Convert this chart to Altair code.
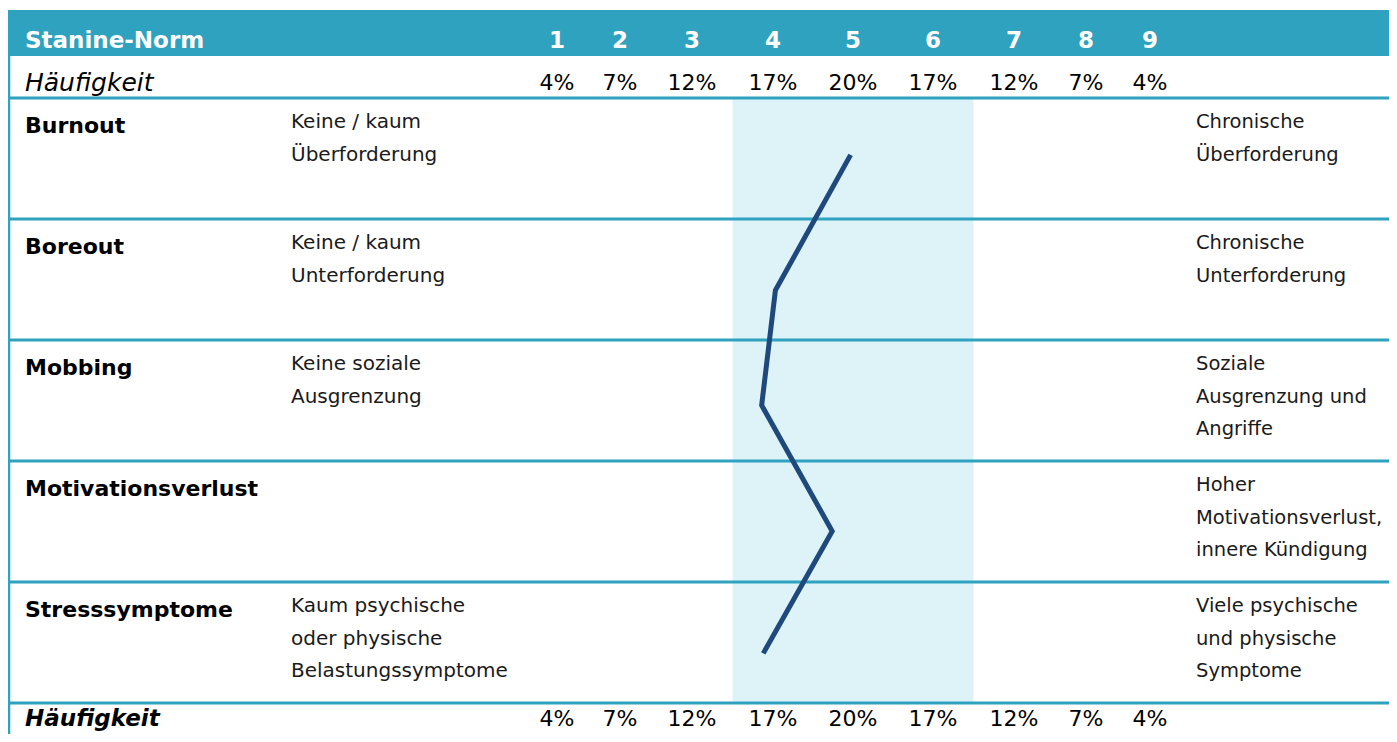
import altair as alt
import pandas as pd

# ---- data ----
stanine = [1, 2, 3, 4, 5, 6, 7, 8, 9]
frequency = ["4%", "7%", "12%", "17%", "20%", "17%", "12%", "7%", "4%"]
scales = ["Burnout", "Boreout", "Mobbing", "Motivationsverlust", "Stresssymptome"]
low_desc = [
    ["Keine / kaum", "Überforderung"],
    ["Keine / kaum", "Unterforderung"],
    ["Keine soziale", "Ausgrenzung"],
    [""],
    ["Kaum psychische", "oder physische", "Belastungssymptome"],
]
high_desc = [
    ["Chronische", "Überforderung"],
    ["Chronische", "Unterforderung"],
    ["Soziale", "Ausgrenzung und", "Angriffe"],
    ["Hoher", "Motivationsverlust,", "innere Kündigung"],
    ["Viele psychische", "und physische", "Symptome"],
]
scores = [4.97, 4.03, 3.86, 4.74, 3.88]          # stanine value of each profile point
score_in_row = [0.47, 0.59, 0.54, 0.58, 0.59]    # vertical position of the point within its row
average_band = [3.5, 6.5]                        # shaded average range (stanine 4-6)

# ---- styling ----
TEAL = "#2ea2bf"
BAND = "#ddf3f8"
LINE = "#1f497d"
FONT = "DejaVu Sans"

# piecewise scales (layout of the table)
xscale = alt.Scale(domain=[0, 1, 2, 3, 4, 5, 6, 7, 8, 9, 10],
                   range=[0, 549, 612, 684, 765, 845, 925, 1006, 1078, 1142, 1389],
                   nice=False, zero=False)
yscale = alt.Scale(domain=[0, 1, 2, 3, 4, 5, 6, 7, 8],
                   range=[2, 48, 90, 211, 332, 453, 574, 695, 736],
                   nice=False, zero=False)

first_row = 2
n = len(scales)

header_df = pd.DataFrame({"x0": [0], "x1": [10], "y0": [0], "y1": [1]})
band_df = pd.DataFrame({"x0": [average_band[0]], "x1": [average_band[1]],
                        "y0": [first_row], "y1": [first_row + n]})
hlines_df = pd.DataFrame({"y": list(range(first_row, first_row + n + 1)), "x0": 0, "x1": 10})
vline_df = pd.DataFrame({"y0": [0], "y1": [8]})

stan_df = pd.DataFrame({"x": stanine, "label": [str(s) for s in stanine], "row": 0})
freq_top = pd.DataFrame({"x": stanine, "label": frequency, "row": 1})
freq_bot = pd.DataFrame({"x": stanine, "label": frequency, "row": first_row + n})
rows_df = pd.DataFrame({
    "row": [first_row + i for i in range(n)],
    "scale": scales,
    "low": low_desc,
    "high": high_desc,
})
line_df = pd.DataFrame({
    "x": scores,
    "y": [first_row + i + f for i, f in enumerate(score_in_row)],
    "order": list(range(n)),
})
title_df = pd.DataFrame({"row": [0], "label": ["Stanine-Norm"]})

Xq = lambda f: alt.X(f, scale=xscale, axis=None)
Yq = lambda f: alt.Y(f, scale=yscale, axis=None)

header = alt.Chart(header_df).mark_rect(color=TEAL).encode(
    x=Xq("x0:Q"), x2="x1:Q", y=Yq("y0:Q"), y2="y1:Q")

band = alt.Chart(band_df).mark_rect(color=BAND).encode(
    x=Xq("x0:Q"), x2="x1:Q", y=Yq("y0:Q"), y2="y1:Q")

hlines = alt.Chart(hlines_df).mark_rule(color=TEAL, strokeWidth=3).encode(
    x=Xq("x0:Q"), x2="x1:Q", y=Yq("y:Q"))

vline = alt.Chart(vline_df).mark_rule(color=TEAL, strokeWidth=2.5).encode(
    x=alt.value(1), y=Yq("y0:Q"), y2="y1:Q")

title_txt = alt.Chart(title_df).mark_text(
    align="left", baseline="alphabetic", dy=38, font=FONT, fontSize=23,
    fontWeight="bold", color="white").encode(
    x=alt.value(17), y=Yq("row:Q"), text="label:N")

stan_txt = alt.Chart(stan_df).mark_text(
    align="center", baseline="alphabetic", dy=38, font=FONT, fontSize=23,
    fontWeight="bold", color="white").encode(
    x=Xq("x:Q"), y=Yq("row:Q"), text="label:N")

freq_top_txt = alt.Chart(freq_top).mark_text(
    align="center", baseline="alphabetic", dy=34, font=FONT, fontSize=22,
    color="black").encode(x=Xq("x:Q"), y=Yq("row:Q"), text="label:N")

freq_bot_txt = alt.Chart(freq_bot).mark_text(
    align="center", baseline="alphabetic", dy=23, font=FONT, fontSize=22,
    color="black").encode(x=Xq("x:Q"), y=Yq("row:Q"), text="label:N")

haeuf_top = alt.Chart(pd.DataFrame({"row": [1], "label": ["Häufigkeit"]})).mark_text(
    align="left", baseline="alphabetic", dy=35, font=FONT, fontSize=25,
    fontStyle="italic", color="black").encode(
    x=alt.value(17), y=Yq("row:Q"), text="label:N")

haeuf_bot = alt.Chart(pd.DataFrame({"row": [first_row + n], "label": ["Häufigkeit"]})).mark_text(
    align="left", baseline="alphabetic", dy=23, font=FONT, fontSize=23,
    fontStyle="italic", fontWeight="bold", color="black").encode(
    x=alt.value(17), y=Yq("row:Q"), text="label:N")

scale_txt = alt.Chart(rows_df).mark_text(
    align="left", baseline="alphabetic", dy=35, font=FONT, fontSize=22,
    fontWeight="bold", color="black").encode(
    x=alt.value(17), y=Yq("row:Q"), text="scale:N")

low_txt = alt.Chart(rows_df).mark_text(
    align="left", baseline="alphabetic", dy=30, font=FONT, fontSize=20,
    lineHeight=32.5, color="#1a1a1a").encode(
    x=alt.value(283), y=Yq("row:Q"), text="low")

high_txt = alt.Chart(rows_df).mark_text(
    align="left", baseline="alphabetic", dy=30, font=FONT, fontSize=19.5,
    lineHeight=32.5, color="#1a1a1a").encode(
    x=alt.value(1188), y=Yq("row:Q"), text="high")

profile = alt.Chart(line_df).mark_line(
    color=LINE, strokeWidth=5, strokeCap="butt", strokeJoin="miter").encode(
    x=Xq("x:Q"), y=Yq("y:Q"), order="order:Q")

chart = alt.layer(
    band, header, hlines, vline, profile,
    title_txt, stan_txt, freq_top_txt, freq_bot_txt, haeuf_top, haeuf_bot,
    scale_txt, low_txt, high_txt
).properties(
    width=1389, height=734,
    padding={"left": 0, "top": 0, "right": -8, "bottom": -8},
    autosize="none",
    background="white",
).configure_view(stroke=None)

chart.save("out.html", embed_options={"renderer": "svg", "actions": False})
